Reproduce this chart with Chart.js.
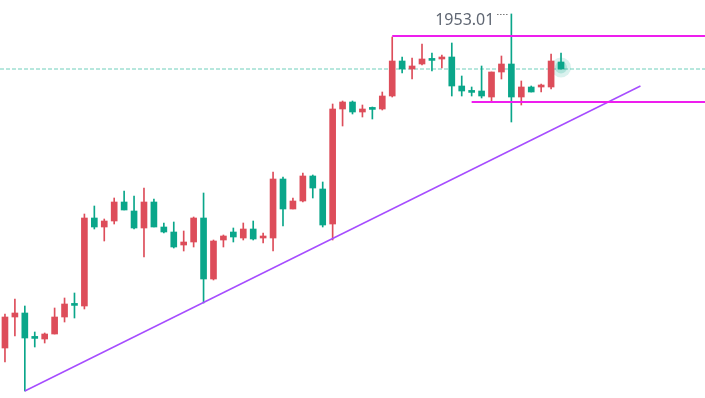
<!DOCTYPE html>
<html>
<head>
<meta charset="utf-8">
<script src="https://cdn.jsdelivr.net/npm/chart.js@4.4.0/dist/chart.umd.min.js"></script>
<style>
  html, body { margin: 0; padding: 0; background: #fff; }
  #wrap { width: 705px; height: 398px; position: relative; }
</style>
</head>
<body>
<div id="wrap"><canvas id="kline"></canvas></div>
<script>
// candles (price)
var opens = [1869.5, 1877.25, 1878.25, 1872, 1871.75, 1873, 1877.25, 1880.25, 1880, 1902,
    1899.75, 1901.25, 1906, 1903.75, 1899.5, 1906, 1899.75, 1898.5, 1895.25, 1896,
    1902, 1886.75, 1896.5, 1898.5, 1897, 1899.25, 1897, 1897, 1911.75, 1904.25,
    1906.25, 1912.5, 1909.25, 1900.5, 1929.25, 1931, 1928.5, 1929.25, 1929.25, 1932.5,
    1941.25, 1939.25, 1940.5, 1941.5, 1941.75, 1942.25, 1935, 1933.5, 1933.75, 1932.25,
    1938.5, 1940.5, 1932.25, 1934.75, 1934.75, 1934.75, 1941];
var highs = [1878, 1881.75, 1880, 1873.5, 1873.25, 1879.5, 1882, 1883.25, 1903, 1905,
    1901.75, 1907, 1908.75, 1907.5, 1909.5, 1906.75, 1900.75, 1901, 1898.75, 1902.25,
    1908.25, 1896.5, 1897.75, 1899.5, 1900.75, 1901.25, 1898.25, 1913.5, 1912.25, 1907,
    1913.25, 1912.75, 1911, 1930.5, 1931.25, 1931.25, 1930.25, 1929.75, 1933.5, 1947.25,
    1942.25, 1942, 1945.5, 1943.25, 1942.75, 1945.75, 1937.5, 1934.75, 1940, 1938.5,
    1942.5, 1953.01, 1936.25, 1935, 1935.5, 1943, 1943.25];
var lows = [1866, 1872.5, 1858.75, 1869.75, 1870.75, 1873, 1876, 1877, 1879.25, 1899.25,
    1896.25, 1900.5, 1904, 1899.25, 1892.25, 1899.75, 1898.25, 1894.5, 1893.75, 1894.75,
    1880.75, 1886.5, 1894.75, 1896, 1896.5, 1896.5, 1895.75, 1893.75, 1900, 1904.25,
    1906, 1907, 1899.75, 1896.5, 1925, 1928, 1927.25, 1926.75, 1929, 1932.25,
    1938.25, 1936.75, 1940.25, 1938.75, 1939.5, 1932.5, 1932.5, 1932.5, 1932, 1931.25,
    1936.75, 1926, 1930.25, 1933.5, 1933.5, 1934.25, 1939.25];
var closes = [1877.25, 1878.25, 1872, 1871.9, 1873, 1877.25, 1880.5, 1880.15, 1902, 1899.75,
    1901.25, 1906, 1904, 1899.5, 1906, 1899.75, 1898.5, 1894.75, 1896, 1902,
    1886.75, 1896.25, 1897.5, 1897.25, 1899.25, 1896.75, 1897.1, 1911.75, 1904.25, 1906.25,
    1912.5, 1909.5, 1900.25, 1929.25, 1931, 1928.5, 1929.25, 1929.15, 1932.5, 1941.25,
    1939.25, 1940, 1941.75, 1941.4, 1942.25, 1935, 1933.75, 1933.4, 1932.5, 1938.5,
    1940.5, 1932.25, 1934.75, 1933.5, 1934.85, 1941.25, 1939.25];

// drawn lines: [start index, end index] and [start price, end price]
var resistX = [39, 70.5], resistY = [1947.5, 1947.5];
var supportX = [47, 70.5], supportY = [1931, 1931];
var trendX = [2, 64], trendY = [1858.75, 1935];

var UP = '#dd4d5a', DOWN = '#0aa68a';

var bodies = [], wicks = [], colors = [];
for (var i = 0; i < opens.length; i++) {
    bodies.push({x: i, y: [opens[i], closes[i]]});
    wicks.push({x: i, y: [lows[i], highs[i]]});
    colors.push(closes[i] >= opens[i] ? UP : DOWN);
}
var last = opens.length - 1;
var lastPrice = closes[last];

function seg(xs, ys) {
    return [{x: xs[0], y: ys[0]}, {x: xs[1], y: ys[1]}];
}

var highLabel = {
    id: 'highLabel',
    afterDatasetsDraw: function (chart) {
        var idx = 0;
        for (var i = 1; i < highs.length; i++) if (highs[i] > highs[idx]) idx = i;
        var px = chart.scales.x.getPixelForValue(idx);
        var py = chart.scales.y.getPixelForValue(highs[idx]);
        var ctx = chart.ctx;
        ctx.save();
        ctx.strokeStyle = '#333';
        ctx.lineWidth = 1;
        ctx.setLineDash([1, 2]);
        ctx.beginPath();
        ctx.moveTo(px - 14, Math.round(py) + 0.5);
        ctx.lineTo(px - 2, Math.round(py) + 0.5);
        ctx.stroke();
        ctx.fillStyle = '#5f6672';
        ctx.font = '16px "Noto Sans", "Open Sans", sans-serif';
        ctx.textAlign = 'right';
        ctx.textBaseline = 'alphabetic';
        ctx.fillText(highs[idx].toFixed(2), px - 17, py + 11);
        ctx.restore();
    }
};

var kline = new Chart(document.getElementById('kline'), {
    type: 'bar',
    data: {
        datasets: [
            {
                type: 'line',
                data: seg(resistX, resistY),
                borderColor: '#ee1eee',
                borderWidth: 2,
                pointRadius: 0,
                order: 0
            },
            {
                type: 'line',
                data: seg(supportX, supportY),
                borderColor: '#ee1eee',
                borderWidth: 2,
                pointRadius: 0,
                order: 0
            },
            {
                type: 'line',
                data: seg(trendX, trendY),
                borderColor: '#a64dff',
                borderWidth: 1.5,
                pointRadius: 0,
                order: 0
            },
            {
                type: 'line',
                data: seg([-0.5, 70.5], [lastPrice, lastPrice]),
                borderColor: '#6fcfbb',
                borderWidth: 1,
                borderDash: [4, 2],
                pointRadius: 0,
                order: 4
            },
            {
                data: bodies,
                backgroundColor: colors,
                barThickness: 6,
                minBarLength: 2,
                grouped: false,
                order: 1
            },
            {
                data: wicks,
                backgroundColor: colors,
                barThickness: 1,
                grouped: false,
                order: 2
            },
            {
                type: 'scatter',
                data: [{x: last, y: (opens[last] + closes[last]) / 2 - 0.5}],
                backgroundColor: 'rgba(10,166,138,0.15)',
                borderWidth: 0,
                pointRadius: 10,
                order: 3
            },
            {
                type: 'scatter',
                data: [{x: last, y: (opens[last] + closes[last]) / 2 - 0.5}],
                backgroundColor: 'rgba(10,166,138,0.2)',
                borderWidth: 0,
                pointRadius: 6,
                order: 3
            }
        ]
    },
    options: {
        responsive: true,
        maintainAspectRatio: false,
        animation: false,
        layout: { padding: 0, autoPadding: false },
        plugins: { legend: { display: false }, tooltip: { enabled: false } },
        scales: {
            x: { type: 'linear', min: -0.5, max: 70.5, offset: false, display: false },
            y: { type: 'linear', min: 1857, max: 1956.5, display: false }
        }
    },
    plugins: [highLabel]
});
</script>
</body>
</html>
